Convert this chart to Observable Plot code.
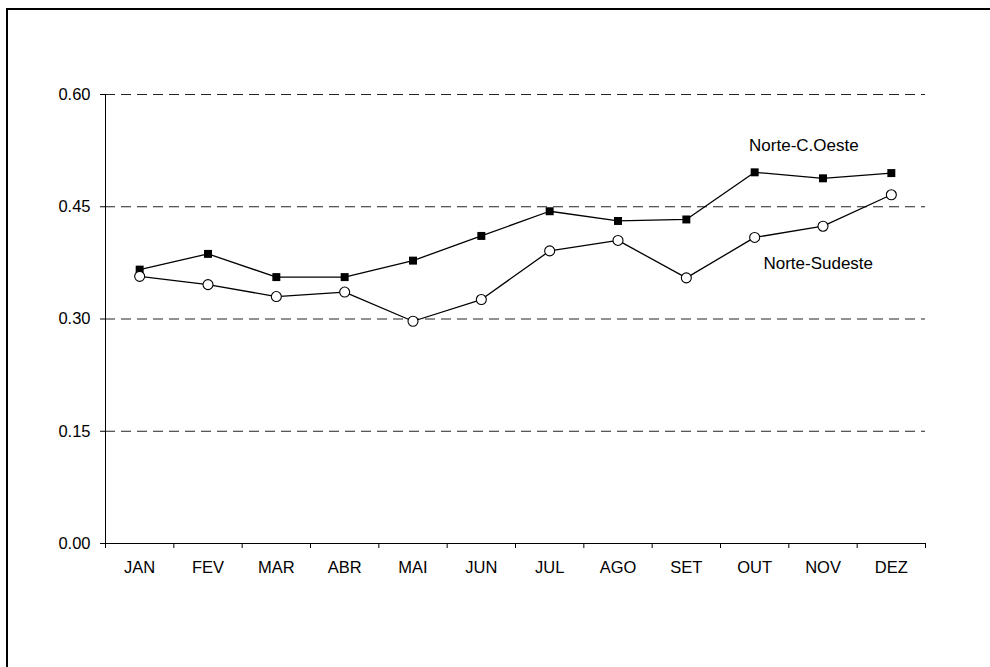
<!DOCTYPE html>
<html>
<head>
<meta charset="utf-8">
<script src="https://cdn.jsdelivr.net/npm/d3@7"></script>
<script src="https://cdn.jsdelivr.net/npm/@observablehq/plot@0.6"></script>
<style>
  html, body { margin: 0; padding: 0; background: #fff; overflow: hidden; }
  #wrap { position: relative; width: 990px; height: 667px; }
  #frame { position: absolute; left: 6px; top: 8px; width: 990px; height: 667px;
           border-left: 2px solid #000; border-top: 2px solid #000; pointer-events: none; }
  #chart { position: absolute; left: 0; top: 0; }
</style>
</head>
<body>
<div id="wrap"><div id="chart"></div><div id="frame"></div></div>
<script>
const months = ["JAN","FEV","MAR","ABR","MAI","JUN","JUL","AGO","SET","OUT","NOV","DEZ"];
const norteCOeste  = [0.366, 0.387, 0.356, 0.356, 0.378, 0.411, 0.444, 0.431, 0.433, 0.496, 0.488, 0.495];
const norteSudeste = [0.357, 0.346, 0.330, 0.336, 0.297, 0.326, 0.391, 0.405, 0.355, 0.409, 0.424, 0.466];
const yTicks = [0, 0.15, 0.30, 0.45, 0.60];
const gridTicks = [0.15, 0.30, 0.45, 0.60];

const rowsCO = months.map((m, i) => ({i: i + 0.5, v: norteCOeste[i]}));
const rowsSE = months.map((m, i) => ({i: i + 0.5, v: norteSudeste[i]}));

const plot = Plot.plot({
  width: 990,
  height: 667,
  marginLeft: 105,
  marginRight: 65,
  marginTop: 94,
  marginBottom: 124,
  style: {fontFamily: "'Liberation Sans', Arial, sans-serif", fontSize: "16.5px", background: "transparent", color: "#000"},
  x: {type: "linear", domain: [0, 12]},
  y: {type: "linear", domain: [0, 0.6]},
  marks: [
    Plot.ruleY(gridTicks, {stroke: "#222", strokeWidth: 1, strokeDasharray: "10,6"}),
    Plot.ruleX([0], {stroke: "#000", strokeWidth: 1}),
    Plot.ruleY([0], {stroke: "#000", strokeWidth: 1}),
    Plot.axisY({ticks: yTicks, tickFormat: d3.format(".2f"), tickSize: 5, tickPadding: 10, label: null, stroke: "#000", strokeOpacity: 1}),
    Plot.axisX({ticks: d3.range(13), tickSize: 5, tickFormat: () => "", label: null, stroke: "#000", strokeOpacity: 1}),
    Plot.axisX({ticks: months.map((m, i) => i + 0.5), tickSize: 0, tickPadding: 18, tickFormat: d => months[Math.floor(d)], label: null}),
    Plot.line(rowsCO, {x: "i", y: "v", stroke: "#000", strokeWidth: 1.3}),
    Plot.line(rowsSE, {x: "i", y: "v", stroke: "#000", strokeWidth: 1.3}),
    Plot.dot(rowsCO, {x: "i", y: "v", symbol: "square", r: 4.5, fill: "#000", stroke: "none"}),
    Plot.dot(rowsSE, {x: "i", y: "v", symbol: "circle", r: 5, fill: "#fff", stroke: "#000", strokeWidth: 1.1}),
    Plot.text(["Norte-C.Oeste"], {x: 10.22, y: 0.532, text: d => d, fill: "#000", fontSize: 17}),
    Plot.text(["Norte-Sudeste"], {x: 10.43, y: 0.374, text: d => d, fill: "#000", fontSize: 17})
  ]
});
document.getElementById("chart").appendChild(plot);
</script>
</body>
</html>
